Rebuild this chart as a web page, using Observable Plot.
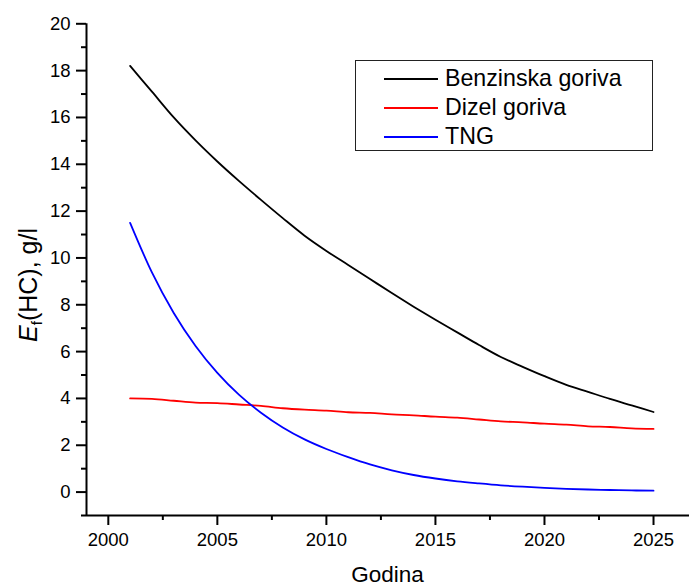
<!DOCTYPE html>
<html><head><meta charset="utf-8">
<script src="https://cdn.jsdelivr.net/npm/d3@7"></script>
<script src="https://cdn.jsdelivr.net/npm/@observablehq/plot@0.6"></script>
<style>
body{margin:0;background:#fff;font-family:"Liberation Sans",Arial,sans-serif}
#wrap{position:relative;width:689px;height:586px;overflow:hidden}
#legend{position:absolute;left:355px;top:60px;width:298px;height:91px;border:1px solid #222;background:#fff;box-sizing:border-box}
.lrow{position:absolute;left:0;height:29px}
.lline{position:absolute;left:28px;width:54px;height:0;border-top:2px solid}
.ltext{position:absolute;left:89px;font-size:23.2px;white-space:nowrap;line-height:1;color:#000}
</style></head><body><div id="wrap"></div>
<script>
const years = [2001,2002,2003,2004,2005,2006,2007,2008,2009,2010,2011,2012,2013,2014,2015,2016,2017,2018,2019,2020,2021,2022,2023,2024,2025];
const benzinska = [18.2,17.1,16.0,15.02,14.12,13.28,12.48,11.7,10.95,10.3,9.7,9.1,8.5,7.92,7.36,6.82,6.28,5.77,5.35,4.95,4.58,4.28,3.98,3.7,3.42];
const dizel = [4.0,3.98,3.9,3.82,3.8,3.74,3.68,3.58,3.52,3.48,3.41,3.38,3.32,3.28,3.22,3.18,3.1,3.02,2.98,2.92,2.88,2.81,2.78,2.72,2.7];
const tng = [11.5,9.38,7.65,6.24,5.09,4.15,3.39,2.76,2.25,1.84,1.49,1.18,0.93,0.73,0.58,0.46,0.37,0.29,0.23,0.18,0.14,0.11,0.09,0.07,0.06];
const seriesNames = ["Benzinska goriva","Dizel goriva","TNG"];
const seriesColors = ["#000000","#ff0000","#0000ff"];
const xDomain = [1999, 2026.65];
const yDomain = [-1, 20];
const xTicks = [2000,2005,2010,2015,2020,2025];
const xMinor = [2002.5,2007.5,2012.5,2017.5,2022.5];
const yTicks = [0,2,4,6,8,10,12,14,16,18,20];
const yMinor = [-1,1,3,5,7,9,11,13,15,17,19];
const xTitle = "Godina";

const seriesValues = [benzinska, dizel, tng];
const rows = [];
seriesNames.forEach((name, i) => years.forEach((yr, j) => rows.push({series: name, year: yr, value: seriesValues[i][j]})));

const plot = Plot.plot({
  width: 689, height: 586,
  marginLeft: 86, marginRight: 0, marginTop: 23.3, marginBottom: 71,
  x: {domain: xDomain},
  y: {domain: yDomain},
  color: {domain: seriesNames, range: seriesColors},
  style: {fontFamily: '"Liberation Sans", Arial, sans-serif', fontSize: "18.5px", color: "#000", background: "#fff"},
  marks: [
    Plot.axisX({ticks: xTicks, tickSize: 10, tickPadding: 7, tickFormat: d => String(d), label: null, strokeWidth: 2}),
    Plot.axisX({ticks: xMinor, tickSize: 5, text: null, label: null, strokeWidth: 2}),
    Plot.axisY({ticks: yTicks, tickSize: 10, tickPadding: 6, tickFormat: d => String(d), label: null, strokeWidth: 2}),
    Plot.axisY({ticks: yMinor, tickSize: 5, text: null, label: null, strokeWidth: 2}),
    Plot.ruleX([xDomain[0]], {stroke: "#000", strokeWidth: 2}),
    Plot.ruleY([yDomain[0]], {stroke: "#000", strokeWidth: 2}),
    Plot.line(rows, {x: "year", y: "value", z: "series", stroke: "series", curve: "monotone-x", strokeWidth: 1.8})
  ]
});
const wrap = document.getElementById("wrap");
wrap.appendChild(plot);

const svg = d3.select(plot);
svg.append("text")
  .attr("x", (86 + 689) / 2).attr("y", 582)
  .attr("text-anchor", "middle")
  .attr("font-size", "22.5px").attr("fill", "#000")
  .text(xTitle);
const yl = svg.append("text")
  .attr("transform", "translate(37,285) rotate(-90)")
  .attr("text-anchor", "middle")
  .attr("font-size", "25px").attr("fill", "#000");
yl.append("tspan").attr("font-style", "italic").text("E");
yl.append("tspan").attr("font-size", "15px").attr("dy", "5").text("f");
yl.append("tspan").attr("dy", "-5").text("(HC), g/l");

const legend = document.createElement("div");
legend.id = "legend";
seriesNames.forEach((name, i) => {
  const r = document.createElement("div");
  r.className = "lrow";
  r.style.top = (3 + i * 29) + "px";
  r.style.width = "100%";
  const ln = document.createElement("div");
  ln.className = "lline";
  ln.style.borderTopColor = seriesColors[i];
  ln.style.top = "14px";
  const tx = document.createElement("div");
  tx.className = "ltext";
  tx.style.top = "3px";
  tx.textContent = name;
  r.appendChild(ln); r.appendChild(tx);
  legend.appendChild(r);
});
wrap.appendChild(legend);
</script>
</body></html>
